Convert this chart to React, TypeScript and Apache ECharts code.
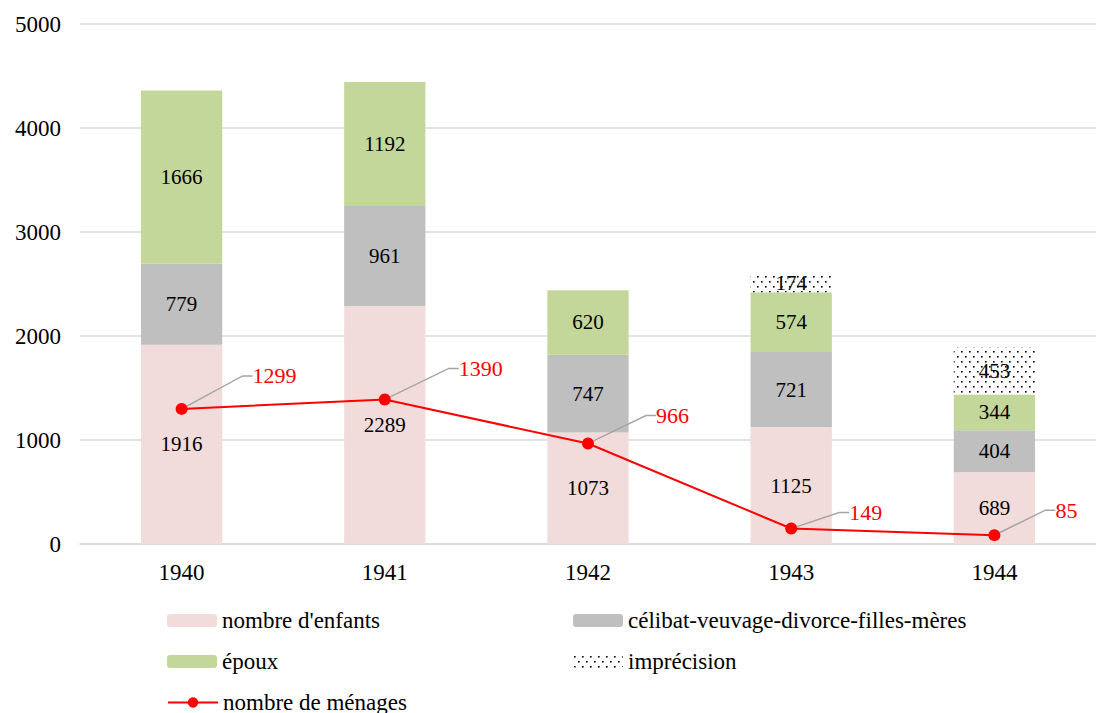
import React, { useEffect, useRef } from "react";
import * as echarts from "echarts";

const years = ["1940", "1941", "1942", "1943", "1944"];
const enfants = [1916, 2289, 1073, 1125, 689];
const celibat = [779, 961, 747, 721, 404];
const epoux = [1666, 1192, 620, 574, 344];
const imprecision = [0, 0, 0, 174, 453];
const menages = [1299, 1390, 966, 149, 85];
const yTicks = { min: 0, max: 5000, interval: 1000 };

// label offsets for the household line labels (layout only)
const menageLabelOffsets = [
  [65, -33],
  [68, -31],
  [62, -28],
  [52, -16],
  [55, -25],
];

const FONT = "Liberation Serif";
const FS_AXIS = 23;
const FS_LEGEND = 23;
const FS_BAR = 21;
const FS_LINE = 22;

function makeDots() {
  const c = document.createElement("canvas");
  c.width = 8;
  c.height = 10;
  const ctx = c.getContext("2d")!;
  ctx.fillStyle = "#ffffff";
  ctx.fillRect(0, 0, 8, 10);
  ctx.fillStyle = "#000000";
  ctx.fillRect(1, 1, 1.6, 1.6);
  ctx.fillRect(5, 6, 1.6, 1.6);
  return c;
}

export default function App() {
  const ref = useRef<HTMLDivElement>(null);
  useEffect(() => {
    const chart = echarts.init(ref.current!, null, { renderer: "svg" });
    const dots = makeDots();
    const pattern: any = { image: dots, repeat: "repeat", imageWidth: 8, imageHeight: 10 };
    const barLabel = {
      show: true,
      position: "inside",
      color: "#000",
      fontFamily: FONT,
      fontSize: FS_BAR,
      formatter: (p: any) => (p.value ? String(p.value) : ""),
    };
    const legendBase = {
      orient: "horizontal",
      itemWidth: 50,
      itemHeight: 13,
      itemGap: 0,
      padding: 0,
      selectedMode: false,
      textStyle: { fontFamily: FONT, fontSize: FS_LEGEND, color: "#000" },
    };
    chart.setOption({
      animation: false,
      textStyle: { fontFamily: FONT },
      grid: { left: 80, top: 24, width: 1025, height: 520 },
      legend: [
        { ...legendBase, left: 167, top: 609, data: ["nombre d'enfants"] },
        { ...legendBase, left: 573, top: 609, data: ["célibat-veuvage-divorce-filles-mères"] },
        { ...legendBase, left: 167, top: 650, data: ["époux"] },
        { ...legendBase, left: 573, top: 650, data: ["imprécision"] },
        { ...legendBase, left: 167, top: 691, data: ["nombre de ménages"] },
      ],
      xAxis: {
        type: "category",
        data: years,
        axisLine: { lineStyle: { color: "#D9D9D9", width: 1.5 } },
        axisTick: { show: false },
        axisLabel: { color: "#000", fontFamily: FONT, fontSize: FS_AXIS, margin: 17 },
      },
      yAxis: {
        type: "value",
        ...yTicks,
        axisLine: { show: false },
        axisTick: { show: false },
        splitLine: { lineStyle: { color: "#D9D9D9", width: 1.5 } },
        axisLabel: {
          color: "#000",
          fontFamily: FONT,
          fontSize: FS_AXIS,
          margin: 19,
          formatter: (v: number) => String(v),
        },
      },
      series: [
        {
          name: "nombre d'enfants",
          type: "bar",
          stack: "t",
          barWidth: "40%",
          data: enfants,
          itemStyle: { color: "#F2DCDB" },
          label: barLabel,
        },
        {
          name: "célibat-veuvage-divorce-filles-mères",
          type: "bar",
          stack: "t",
          data: celibat,
          itemStyle: { color: "#BFBFBF" },
          label: barLabel,
        },
        {
          name: "époux",
          type: "bar",
          stack: "t",
          data: epoux,
          itemStyle: { color: "#C4D79B" },
          label: barLabel,
        },
        {
          name: "imprécision",
          type: "bar",
          stack: "t",
          data: imprecision,
          itemStyle: { color: pattern },
          label: barLabel,
        },
        {
          name: "nombre de ménages",
          type: "line",
          data: menages,
          symbol: "circle",
          symbolSize: 12,
          z: 10,
          lineStyle: { color: "#FF0000", width: 2 },
          itemStyle: { color: "#FF0000" },
          label: {
            show: true,
            position: "right",
            distance: 0,
            color: "#FF0000",
            fontFamily: FONT,
            fontSize: FS_LINE,
          },
          labelLayout: (p: any) => ({
            dx: menageLabelOffsets[p.dataIndex][0],
            dy: menageLabelOffsets[p.dataIndex][1],
          }),
          labelLine: { show: true, length2: 10, lineStyle: { color: "#A5A5A5", width: 1.5 } },
        },
      ],
    });
    return () => chart.dispose();
  }, []);
  return (
    <div
      ref={ref}
      style={{ position: "fixed", left: 0, top: 0, width: 1096, height: 713, background: "#fff" }}
    />
  );
}
